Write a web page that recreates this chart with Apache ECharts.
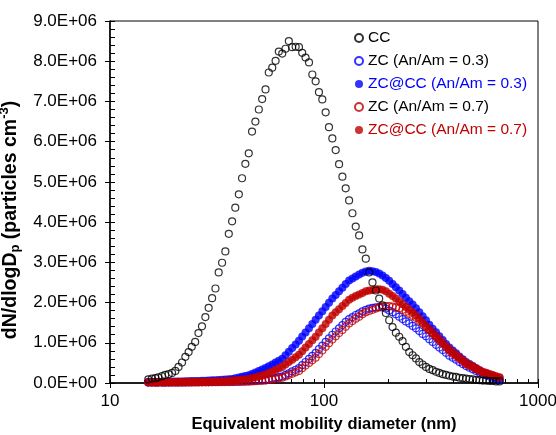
<!DOCTYPE html>
<html><head><meta charset="utf-8">
<script src="https://cdn.jsdelivr.net/npm/echarts@6/dist/echarts.min.js"></script>
<style>html,body{margin:0;padding:0;background:#fff}#c{width:556px;height:435px}</style>
</head><body><div id="c"></div>
<script>
// Equivalent mobility diameter (nm), SMPS channels
const diameters = [15.1,15.7,16.3,16.8,17.5,18.1,18.8,19.5,20.2,20.9,21.7,22.5,23.3,24.1,25.0,25.9,26.9,27.9,28.9,30.0,
31.1,32.2,33.4,34.6,35.9,37.2,38.5,40.0,41.4,42.9,44.5,46.1,47.8,49.6,51.4,53.3,55.2,57.3,59.4,61.5,
63.8,66.1,68.5,71.0,73.7,76.4,79.1,82.0,85.1,88.2,91.4,94.7,98.2,101.8,105.5,109.4,113.4,117.6,121.9,126.3,
131.0,135.8,140.7,145.9,151.2,156.8,162.5,168.5,174.7,181.1,187.7,194.6,201.7,209.1,216.7,224.7,232.9,241.4,250.3,259.5,
269.0,278.8,289.0,299.6,310.6,322.0,333.8,346.0,358.7,371.8,385.4,399.5,414.2,429.4,445.1,461.4,478.3,495.8,514.0,532.8,
552.3,572.5,593.5,615.3,637.8,661.2];

// dN/dlogDp values, in units of 1E+06 particles cm^-3
const cc = [0.09,0.11,0.12,0.14,0.17,0.20,0.22,0.25,0.30,0.40,0.51,0.65,0.77,0.90,1.02,1.24,1.41,1.64,1.87,2.11,
2.35,2.75,2.99,3.27,3.71,4.02,4.36,4.69,5.09,5.45,5.71,6.25,6.50,6.80,7.06,7.30,7.72,7.84,8.01,8.24,
8.19,8.31,8.50,8.35,8.36,8.35,8.21,8.09,7.97,7.67,7.50,7.23,7.05,6.73,6.36,6.08,5.79,5.44,5.13,4.84,
4.54,4.22,3.89,3.67,3.32,3.09,2.75,2.50,2.30,2.10,1.93,1.74,1.56,1.39,1.25,1.15,1.04,0.90,0.77,0.69,
0.61,0.52,0.46,0.40,0.35,0.32,0.28,0.25,0.22,0.20,0.18,0.16,0.15,0.13,0.12,0.11,0.10,0.09,0.08,0.07,
0.06,0.06,0.05,0.05,0.04,0.04];

const zc03 = [0.01,0.01,0.01,0.01,0.01,0.01,0.011,0.012,0.013,0.014,0.015,0.016,0.017,0.018,0.019,0.02,0.021,0.022,0.023,0.024,
0.025,0.026,0.027,0.028,0.029,0.03,0.033,0.036,0.039,0.042,0.045,0.052,0.059,0.066,0.073,0.08,0.096,0.112,0.128,0.144,
0.16,0.20,0.24,0.29,0.33,0.37,0.446,0.522,0.598,0.674,0.75,0.84,0.93,1.02,1.11,1.20,1.28,1.36,1.44,1.52,
1.59,1.64,1.69,1.73,1.78,1.82,1.85,1.87,1.88,1.89,1.88,1.85,1.80,1.76,1.71,1.65,1.59,1.53,1.48,1.42,
1.36,1.29,1.22,1.16,1.09,1.02,0.95,0.88,0.82,0.75,0.68,0.63,0.58,0.52,0.47,0.42,0.38,0.34,0.30,0.26,
0.22,0.19,0.16,0.13,0.10,0.07];

const zcAtCc03 = [0.03,0.03,0.03,0.03,0.03,0.03,0.03,0.035,0.035,0.04,0.04,0.045,0.045,0.05,0.05,0.05,0.054,0.058,0.062,0.066,
0.07,0.076,0.082,0.088,0.094,0.10,0.118,0.136,0.154,0.172,0.19,0.226,0.262,0.298,0.334,0.37,0.416,0.462,0.508,0.554,
0.60,0.69,0.78,0.87,0.96,1.05,1.154,1.258,1.362,1.466,1.57,1.676,1.782,1.888,1.994,2.10,2.19,2.28,2.37,2.46,
2.55,2.60,2.65,2.70,2.74,2.77,2.79,2.78,2.76,2.72,2.67,2.61,2.54,2.46,2.38,2.30,2.21,2.12,2.03,1.95,
1.86,1.76,1.66,1.56,1.45,1.35,1.26,1.16,1.07,0.97,0.88,0.81,0.74,0.66,0.59,0.52,0.47,0.42,0.36,0.31,
0.26,0.23,0.19,0.16,0.12,0.09];

const zc07 = [0.01,0.01,0.01,0.01,0.01,0.01,0.01,0.01,0.01,0.01,0.01,0.011,0.012,0.013,0.014,0.015,0.016,0.017,0.018,0.019,
0.02,0.021,0.022,0.023,0.024,0.025,0.027,0.029,0.031,0.033,0.035,0.040,0.045,0.050,0.055,0.06,0.074,0.088,0.102,0.116,
0.13,0.164,0.198,0.232,0.266,0.30,0.366,0.432,0.498,0.564,0.63,0.72,0.81,0.90,0.99,1.08,1.16,1.24,1.32,1.40,
1.48,1.54,1.60,1.65,1.71,1.76,1.79,1.82,1.85,1.88,1.90,1.91,1.91,1.90,1.88,1.86,1.82,1.77,1.72,1.67,
1.62,1.55,1.48,1.40,1.33,1.25,1.17,1.09,1.00,0.92,0.84,0.77,0.70,0.64,0.57,0.50,0.46,0.41,0.37,0.32,
0.28,0.25,0.22,0.19,0.16,0.13];

const zcAtCc07 = [0.02,0.02,0.02,0.02,0.02,0.02,0.022,0.024,0.026,0.028,0.03,0.03,0.03,0.03,0.03,0.03,0.032,0.034,0.036,0.038,
0.04,0.044,0.048,0.052,0.056,0.06,0.068,0.076,0.084,0.092,0.10,0.122,0.144,0.166,0.188,0.21,0.248,0.286,0.324,0.362,
0.40,0.46,0.52,0.58,0.64,0.70,0.79,0.88,0.97,1.06,1.15,1.256,1.362,1.468,1.574,1.68,1.758,1.836,1.914,1.992,
2.07,2.12,2.16,2.20,2.24,2.28,2.30,2.31,2.33,2.33,2.32,2.28,2.22,2.16,2.10,2.03,1.96,1.89,1.82,1.75,
1.68,1.59,1.50,1.40,1.31,1.22,1.14,1.05,0.97,0.88,0.80,0.73,0.67,0.60,0.54,0.47,0.43,0.39,0.34,0.30,
0.26,0.24,0.21,0.19,0.16,0.14];

const seriesNames = ['CC','ZC (An/Am = 0.3)','ZC@CC (An/Am = 0.3)','ZC (An/Am = 0.7)','ZC@CC (An/Am = 0.7)'];
const xMinorTickValues = [10,20,30,40,50,60,70,80,90,100,200,300,400,500,600,700,800,900,1000];
const yTickLabels = ['0.0E+00','1.0E+06','2.0E+06','3.0E+06','4.0E+06','5.0E+06','6.0E+06','7.0E+06','8.0E+06','9.0E+06'];

const BLUE = '#0000ff', RED = '#c00000', BLACK = '#000000';
const FONT = 'Liberation Sans, Arial, sans-serif';

function pts(arr){ return diameters.map((d,i)=>[d, arr[i]*1e6]); }
function openStyle(c){ return {color:'rgba(255,255,255,0)', borderColor:c, borderWidth:1.2}; }

const chart = echarts.init(document.getElementById('c'), null, {renderer:'canvas'});
chart.setOption({
  animation:false,
  backgroundColor:'#fff',
  grid:{left:110, top:21, width:428, height:362, show:true, borderColor:'#000', borderWidth:1, backgroundColor:'transparent', containLabel:false, outerBoundsMode:'none'},
  legend:{
    orient:'vertical', left:349, top:25, itemWidth:8, itemHeight:8, itemGap:7,
    textStyle:{fontFamily:FONT, fontSize:15.5, color:'#000'},
    data:[
      {name:seriesNames[0], textStyle:{color:BLACK}},
      {name:seriesNames[1], textStyle:{color:BLACK}},
      {name:seriesNames[2], textStyle:{color:BLUE}},
      {name:seriesNames[3], textStyle:{color:BLACK}},
      {name:seriesNames[4], textStyle:{color:RED}}
    ]
  },
  xAxis:[{
    type:'log', logBase:10, min:10, max:1000, position:'bottom',
    name:'Equivalent mobility diameter (nm)', nameLocation:'middle', nameGap:33,
    nameTextStyle:{fontFamily:FONT, fontSize:16.5, fontWeight:'bold', color:'#000'},
    axisLine:{show:true, onZero:false, lineStyle:{color:'#000', width:1.5}},
    axisTick:{show:true, inside:false, length:5, lineStyle:{color:'#000', width:1}},
    axisLabel:{fontFamily:FONT, fontSize:17, color:'#000', margin:10, formatter:v=>String(Math.round(v))},
    splitLine:{show:false}, minorTick:{show:false}
  },{
    type:'value', min:1, max:3, position:'bottom',
    axisLine:{show:false},
    axisTick:{show:true, inside:true, length:4, customValues:xMinorTickValues.map(v=>Math.log10(v)), lineStyle:{color:'#000', width:1}},
    axisLabel:{show:false}, splitLine:{show:false}
  }],
  yAxis:[{
    type:'value', min:0, max:9e6, interval:1e6, position:'left',
    name:'{b|dN/dlogD}{s|p}{b| (particles cm}{u|-3}{b|)}', nameLocation:'middle', nameGap:83,
    nameTextStyle:{fontFamily:FONT, color:'#000', padding:[0,36,0,0], rich:{
      b:{fontFamily:FONT, fontSize:19.5, fontWeight:'bold', color:'#000', lineHeight:24},
      s:{fontFamily:FONT, fontSize:13, fontWeight:'bold', color:'#000', lineHeight:13, verticalAlign:'bottom'},
      u:{fontFamily:FONT, fontSize:13, fontWeight:'bold', color:'#000', lineHeight:13, verticalAlign:'top'}
    }},
    axisLine:{show:true, onZero:false, lineStyle:{color:'#000', width:1.5}},
    axisTick:{show:true, inside:false, length:5, lineStyle:{color:'#000', width:1}},
    axisLabel:{fontFamily:FONT, fontSize:17, color:'#000', margin:13, formatter:(v)=>yTickLabels[Math.round(v/1e6)]},
    splitLine:{show:false}
  },{
    type:'value', min:0, max:9e6, interval:2e5, position:'left',
    axisLine:{show:false},
    axisTick:{show:true, inside:true, length:5, lineStyle:{color:'#000', width:1}},
    axisLabel:{show:false}, splitLine:{show:false}
  }],
  series:[
    {name:seriesNames[1], type:'scatter', z:2, symbol:'circle', symbolSize:7, itemStyle:openStyle(BLUE), data:pts(zc03)},
    {name:seriesNames[2], type:'scatter', z:3, symbol:'circle', symbolSize:8, itemStyle:{color:BLUE}, data:pts(zcAtCc03)},
    {name:seriesNames[3], type:'scatter', z:4, symbol:'circle', symbolSize:7, itemStyle:openStyle(RED), data:pts(zc07)},
    {name:seriesNames[4], type:'scatter', z:5, symbol:'circle', symbolSize:8, itemStyle:{color:RED}, data:pts(zcAtCc07)},
    {name:seriesNames[0], type:'scatter', z:6, symbol:'circle', symbolSize:7, itemStyle:openStyle(BLACK), data:pts(cc)}
  ]
});
</script>
</body></html>
